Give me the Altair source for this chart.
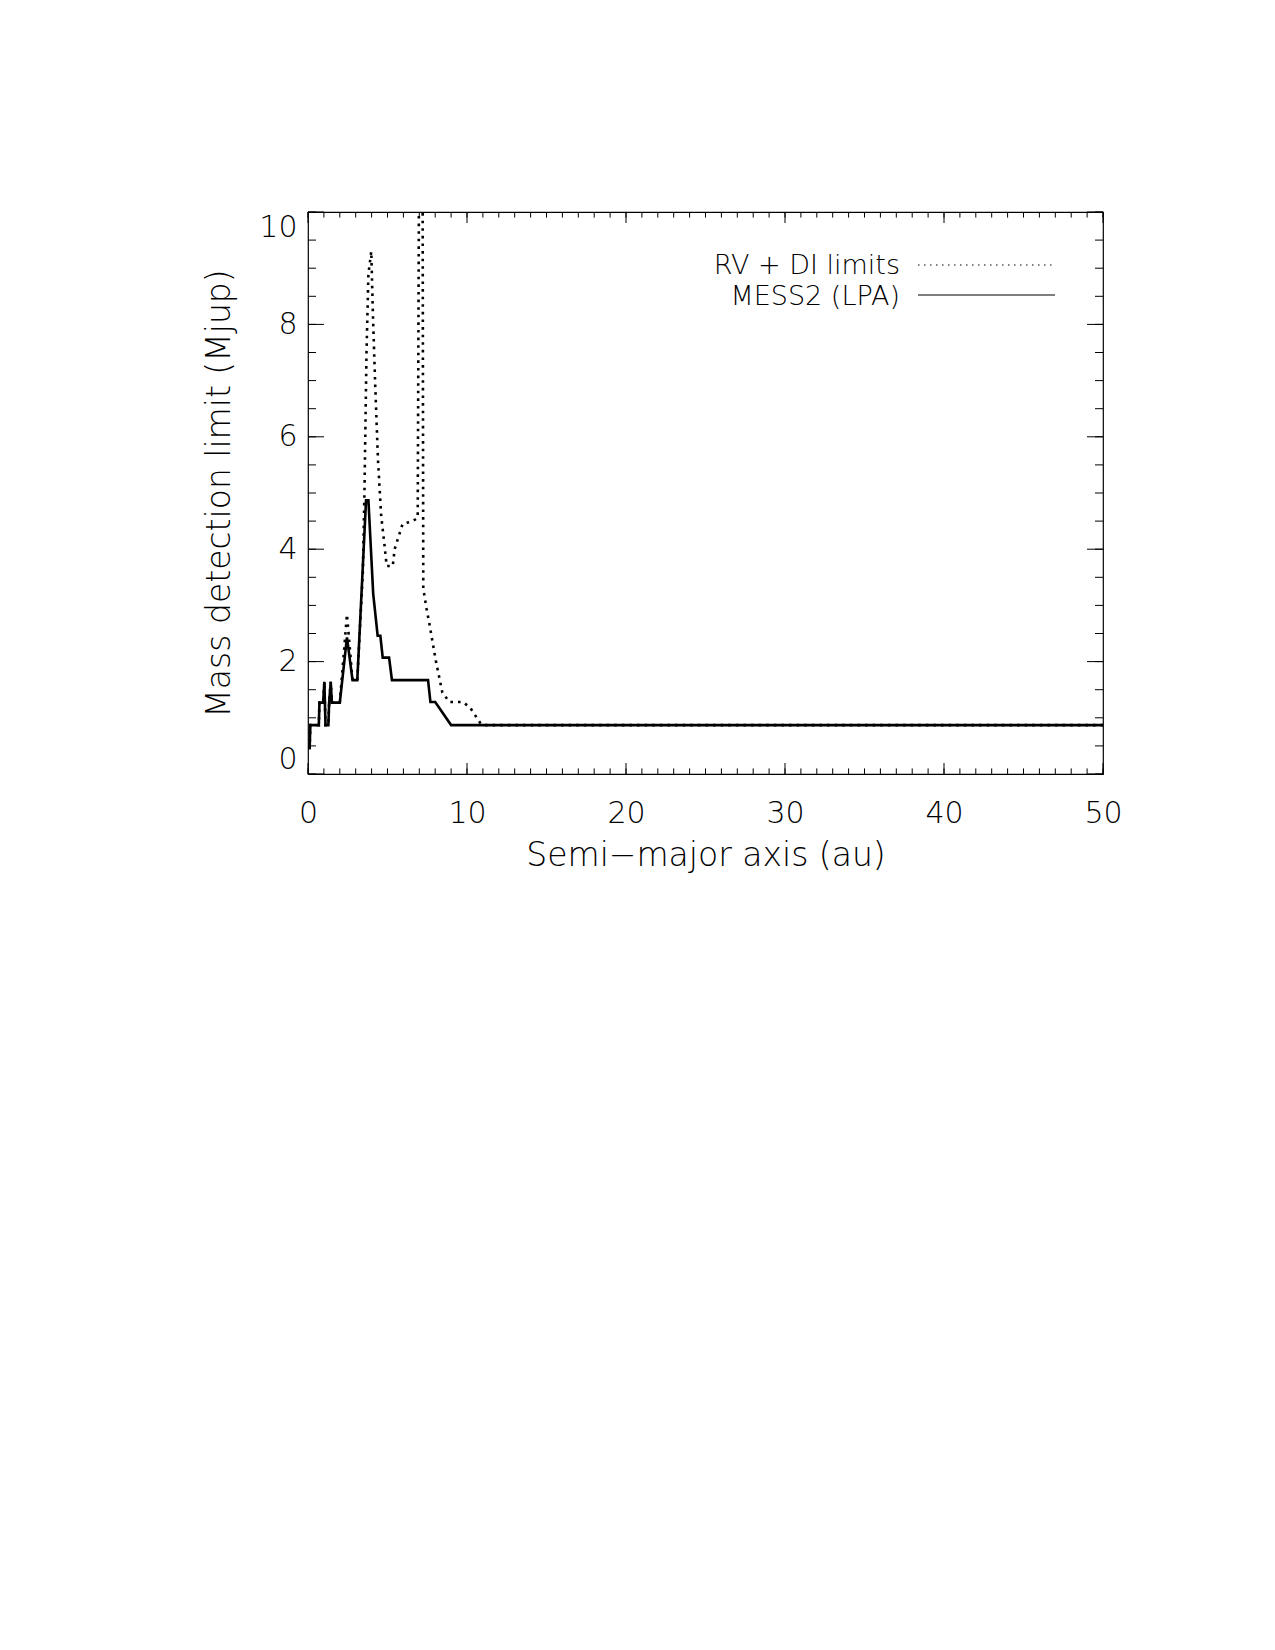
import altair as alt
import pandas as pd

# ---- data ----
mess_x = [0.10, 0.15, 0.68, 0.72, 0.95, 1.03, 1.10, 1.28, 1.33, 1.43, 1.50, 2.00, 2.45,
          2.80, 3.10, 3.65, 3.80, 4.10, 4.38, 4.55, 4.70, 5.10, 5.28, 7.55, 7.70, 8.00,
          9.00, 50.0]
mess_y = [0.44, 0.87, 0.87, 1.27, 1.27, 1.64, 0.87, 0.87, 1.27, 1.64, 1.27, 1.27, 2.43,
          1.67, 1.67, 4.87, 4.87, 3.21, 2.46, 2.46, 2.07, 2.07, 1.67, 1.67, 1.28, 1.28,
          0.87, 0.87]

rv_x = [0.10, 0.15, 0.68, 0.72, 0.95, 1.03, 1.10, 1.28, 1.33, 1.43, 1.50, 2.00, 2.45,
        2.80, 3.10, 3.45, 3.55, 3.68, 3.80, 3.98, 4.08, 4.23, 4.40, 4.60, 4.80, 4.95,
        5.33, 5.45, 5.95, 6.60, 6.90, 7.00, 7.20, 7.25, 7.45, 7.65, 8.05, 8.45, 8.90,
        9.75, 10.20, 10.85, 11.00, 50.0]
rv_y = [0.44, 0.87, 0.87, 1.27, 1.27, 1.64, 0.87, 0.87, 1.27, 1.64, 1.27, 1.27, 2.84,
        1.67, 1.67, 3.60, 5.00, 7.50, 8.90, 9.30, 8.20, 6.90, 5.60, 4.60, 4.10, 3.70,
        3.70, 4.00, 4.45, 4.50, 4.56, 12.0, 12.0, 3.30, 2.95, 2.65, 2.00, 1.45, 1.28,
        1.28, 1.18, 0.90, 0.87, 0.87]

x_labels = [0, 10, 20, 30, 40, 50]
x_minor = [0, 1, 2, 3, 4, 5, 6, 7, 8, 9, 10, 11, 12, 13, 14, 15, 16, 17, 18, 19, 20,
           21, 22, 23, 24, 25, 26, 27, 28, 29, 30, 31, 32, 33, 34, 35, 36, 37, 38, 39,
           40, 41, 42, 43, 44, 45, 46, 47, 48, 49, 50]
y_labels = [0, 2, 4, 6, 8, 10]
y_minor = [0, 0.5, 1, 1.5, 2, 2.5, 3, 3.5, 4, 4.5, 5, 5.5, 6, 6.5, 7, 7.5, 8, 8.5, 9,
           9.5, 10]
legend_labels = ["RV + DI limits", "MESS2 (LPA)"]

x_title = "Semi\u2212major axis (au)"
y_title = "Mass detection limit (Mjup)"

# ---- layout / style ----
FONT = "DejaVu Sans"
FW = 200
W, H = 795, 562
LEFT, TOP = 308, 212

df_mess = pd.DataFrame({"a": mess_x, "m": mess_y, "i": range(len(mess_x))})
df_rv = pd.DataFrame({"a": rv_x, "m": rv_y, "i": range(len(rv_x))})

xs = alt.Scale(domain=[0, 50], nice=False, zero=False)
ys = alt.Scale(domain=[0, 10], nice=False, zero=False)

x_axis = alt.Axis(values=x_labels, title=x_title, labelFont=FONT, labelFontSize=30,
                  labelFontWeight=FW, labelPadding=24, labelFlush=False,
                  titleFont=FONT, titleFontSize=33, titleFontWeight=FW,
                  titlePadding=11, labelColor="black", titleColor="black",
                  ticks=False, tickSize=0, domain=False, grid=False, format="d")
y_axis = alt.Axis(values=y_labels, title=y_title, labelFont=FONT, labelFontSize=30,
                  labelFontWeight=FW, labelPadding=11, labelFlush=True,
                  titleFont=FONT, titleFontSize=33, titleFontWeight=FW,
                  titlePadding=22, labelColor="black", titleColor="black",
                  ticks=False, tickSize=0, domain=False, grid=False, format="d")

rv = alt.Chart(df_rv).mark_line(color="black", strokeWidth=2.6, strokeDash=[2.6, 5],
                                clip=True).encode(
    x=alt.X("a:Q", scale=xs, axis=x_axis),
    y=alt.Y("m:Q", scale=ys, axis=y_axis),
    order="i:Q",
)
mess = alt.Chart(df_mess).mark_line(color="black", strokeWidth=2.6, clip=True).encode(
    x=alt.X("a:Q", scale=xs, axis=x_axis),
    y=alt.Y("m:Q", scale=ys, axis=y_axis),
    order="i:Q",
)

def xticks(vals, length):
    d = pd.DataFrame({"v": vals})
    bottom = alt.Chart(d).mark_rule(color="black", strokeWidth=1).encode(
        x=alt.X("v:Q", scale=xs, axis=x_axis), y=alt.value(H), y2=alt.value(H - length))
    top = alt.Chart(d).mark_rule(color="black", strokeWidth=1).encode(
        x=alt.X("v:Q", scale=xs, axis=x_axis), y=alt.value(0), y2=alt.value(length))
    return [bottom, top]

def yticks(vals, length):
    d = pd.DataFrame({"v": vals})
    left = alt.Chart(d).mark_rule(color="black", strokeWidth=1).encode(
        y=alt.Y("v:Q", scale=ys, axis=y_axis), x=alt.value(0), x2=alt.value(length))
    right = alt.Chart(d).mark_rule(color="black", strokeWidth=1).encode(
        y=alt.Y("v:Q", scale=ys, axis=y_axis), x=alt.value(W), x2=alt.value(W - length))
    return [left, right]

ticks = xticks(x_minor, 5.6) + xticks(x_labels, 11) + yticks(y_minor, 8) + yticks(y_labels, 16)

leg_rows = []
for k, lab in enumerate(legend_labels):
    d = pd.DataFrame({"t": [lab]})
    ty = 62 + 31 * k
    ly = 53 + 30 * k
    txt = alt.Chart(d).mark_text(align="right", baseline="alphabetic", font=FONT,
                                 fontSize=27, fontWeight=FW, color="black").encode(
        text="t:N", x=alt.value(592), y=alt.value(ty))
    if k == 0:
        ln = alt.Chart(d).mark_rule(color="black", strokeWidth=1.2,
                                    strokeDash=[1.5, 4.5]).encode(
            x=alt.value(610), x2=alt.value(747), y=alt.value(ly))
    else:
        ln = alt.Chart(d).mark_rule(color="black", strokeWidth=1).encode(
            x=alt.value(610), x2=alt.value(747), y=alt.value(ly))
    leg_rows += [txt, ln]

chart = alt.layer(rv, mess, *ticks, *leg_rows).properties(
    width=W, height=H,
    autosize=alt.AutoSizeParams(type="none"),
    padding={"left": LEFT, "top": TOP, "right": 1275 - LEFT - W, "bottom": 1650 - TOP - H},
    background="white",
).configure_view(stroke="black", strokeWidth=1.2)

chart.save("out.html", embed_options={"renderer": "svg", "actions": False})
